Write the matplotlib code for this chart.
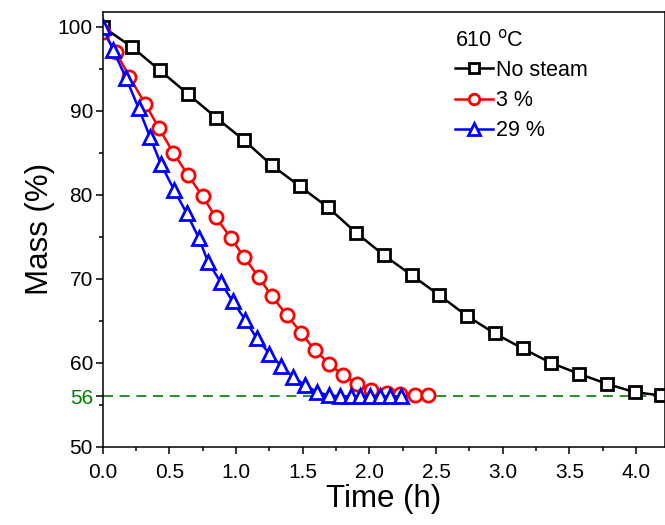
import matplotlib
matplotlib.use("Agg")
import matplotlib.pyplot as plt
from matplotlib.ticker import MultipleLocator

plt.rcParams['font.family'] = ['Liberation Sans', 'DejaVu Sans']

# data
t_dry = [0, 0.22, 0.43, 0.64, 0.85, 1.06, 1.27, 1.48, 1.69, 1.90, 2.11,
         2.32, 2.52, 2.73, 2.94, 3.15, 3.36, 3.57, 3.78, 3.99, 4.19]
m_dry = [100, 97.6, 94.8, 92.0, 89.2, 86.5, 83.5, 81.0, 78.5, 75.5, 72.8,
         70.4, 68.1, 65.6, 63.5, 61.7, 60.0, 58.7, 57.5, 56.5, 56.1]

t_3 = [0, 0.10, 0.20, 0.32, 0.42, 0.53, 0.64, 0.75, 0.85, 0.96, 1.06, 1.17,
       1.27, 1.38, 1.49, 1.59, 1.70, 1.80, 1.91, 2.01, 2.13, 2.23, 2.34, 2.44]
m_3 = [99.4, 97.0, 94.05, 90.8, 88.0, 85.0, 82.35, 79.8, 77.3, 74.9, 72.6,
       70.2, 67.9, 65.7, 63.55, 61.5, 59.9, 58.5, 57.5, 56.8, 56.4, 56.25,
       56.15, 56.15]

t_29 = [0, 0.08, 0.175, 0.27, 0.355, 0.435, 0.535, 0.63, 0.72, 0.79, 0.885,
        0.975, 1.07, 1.155, 1.25, 1.34, 1.43, 1.52, 1.61, 1.70, 1.78, 1.86,
        1.93, 2.005, 2.08, 2.155, 2.24]
m_29 = [100, 97.2, 93.9, 90.3, 86.9, 83.7, 80.6, 77.8, 74.9, 72.0, 69.6,
        67.3, 65.1, 62.9, 61.1, 59.6, 58.3, 57.3, 56.5, 56.1, 56.0, 56.0,
        56.0, 56.0, 56.0, 56.0, 56.0]

labels = ['No steam', '3 %', '29 %']
final_mass = 56

fig = plt.figure(figsize=(6.65, 5.25), dpi=100)
ax = fig.add_axes([0.1544, 0.1491, 0.8456, 0.8286])

ax.axhline(final_mass, color='#008000', ls=(0, (6, 4)), lw=1.2, zorder=1)

ax.plot(t_dry, m_dry, '-s', color='black', lw=1.8, ms=9, mew=2,
        mfc='white', label=labels[0])
ax.plot(t_3, m_3, '-o', color='red', lw=1.8, ms=9.5, mew=2,
        mfc='white', label=labels[1])
ax.plot(t_29, m_29, '-^', color='blue', lw=1.8, ms=10, mew=2,
        mfc='white', label=labels[2])

ax.set_xlim(0, 4.218)
ax.set_ylim(50, 101.8)
ax.set_xticks([0, 0.5, 1.0, 1.5, 2.0, 2.5, 3.0, 3.5, 4.0])
ax.xaxis.set_minor_locator(MultipleLocator(0.25))
ax.set_yticks([50, 56, 60, 70, 80, 90, 100])
ax.yaxis.set_minor_locator(MultipleLocator(5))
ax.xaxis.set_major_formatter(plt.FormatStrFormatter('%.1f'))

ax.tick_params(which='major', direction='out', length=5, width=1.1, labelsize=15)
ax.tick_params(which='minor', direction='out', length=3, width=1.1)
ax.tick_params(axis='y', pad=2)
ax.tick_params(axis='x', pad=7)

# green label for the final mass
ax.get_yticklabels()[1].set_color('#008000')
ax.yaxis.get_major_ticks()[1].tick1line.set_color('#008000')

for s in ax.spines.values():
    s.set_linewidth(1.1)

ax.set_xlabel('Time (h)', fontsize=22.5, labelpad=1)
ax.set_ylabel('Mass (%)', fontsize=22.5, labelpad=2)

leg = ax.legend(loc='upper left', bbox_to_anchor=(0.6, 0.995), frameon=False,
                fontsize=15.5, title='610 $^{\\mathrm{o}}$C', title_fontsize=15.5,
                alignment='left', handlelength=1.75, handletextpad=0.15,
                labelspacing=0.42, borderpad=0.2, markerscale=0.8)

fig.savefig('out.png', dpi=100)
